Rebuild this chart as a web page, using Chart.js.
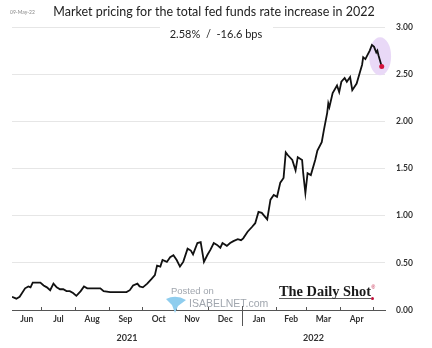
<!DOCTYPE html>
<html>
<head>
<meta charset="utf-8">
<script src="https://cdn.jsdelivr.net/npm/chart.js@4.4.1/dist/chart.umd.min.js"></script>
<style>
html, body { margin: 0; padding: 0; background: #fff; }
#wrap { width: 432px; height: 348px; }
</style>
</head>
<body>
<div id="wrap"><canvas id="fed-chart"></canvas></div>
<script>
// market-implied fed funds hikes priced for 2022 (%)
const dates = [
    '2021-06-04', '2021-06-08', '2021-06-11', '2021-06-16', '2021-06-19', '2021-06-21', '2021-06-23', '2021-06-27', '2021-06-30',
    '2021-07-03', '2021-07-06', '2021-07-09', '2021-07-12', '2021-07-15', '2021-07-18', '2021-07-21', '2021-07-24', '2021-07-27', '2021-07-30',
    '2021-08-02', '2021-08-06', '2021-08-09', '2021-08-12', '2021-08-17', '2021-08-24', '2021-08-27',
    '2021-09-02', '2021-09-08', '2021-09-14', '2021-09-17', '2021-09-20', '2021-09-23', '2021-09-27', '2021-09-29',
    '2021-10-02', '2021-10-06', '2021-10-10', '2021-10-13', '2021-10-15', '2021-10-18', '2021-10-20', '2021-10-24', '2021-10-27', '2021-10-30',
    '2021-11-02', '2021-11-05', '2021-11-08', '2021-11-12', '2021-11-15', '2021-11-17', '2021-11-21', '2021-11-24', '2021-11-27', '2021-11-30',
    '2021-12-03', '2021-12-06', '2021-12-09', '2021-12-12', '2021-12-14', '2021-12-18', '2021-12-21', '2021-12-24', '2021-12-28', '2021-12-31',
    '2022-01-02', '2022-01-06', '2022-01-10', '2022-01-13', '2022-01-16', '2022-01-19', '2022-01-24', '2022-01-27', '2022-01-30',
    '2022-02-02', '2022-02-05', '2022-02-08', '2022-02-10', '2022-02-12', '2022-02-16', '2022-02-19', '2022-02-21', '2022-02-25', '2022-02-26', '2022-02-28',
    '2022-03-02', '2022-03-05', '2022-03-09', '2022-03-11', '2022-03-15', '2022-03-17', '2022-03-20', '2022-03-21', '2022-03-22', '2022-03-25', '2022-03-29', '2022-03-31',
    '2022-04-02', '2022-04-05', '2022-04-07', '2022-04-10', '2022-04-12', '2022-04-16', '2022-04-19', '2022-04-21', '2022-04-22', '2022-04-24', '2022-04-28', '2022-04-30',
    '2022-05-02', '2022-05-04', '2022-05-05', '2022-05-06', '2022-05-09'
];
const rates = [
    0.14, 0.12, 0.14, 0.23, 0.25, 0.24, 0.29, 0.29, 0.29,
    0.26, 0.24, 0.21, 0.28, 0.24, 0.22, 0.22, 0.20, 0.20, 0.18,
    0.15, 0.20, 0.25, 0.23, 0.23, 0.23, 0.20,
    0.19, 0.19, 0.19, 0.19, 0.21, 0.26, 0.28, 0.25,
    0.24, 0.28, 0.33, 0.37, 0.47, 0.46, 0.53, 0.51, 0.56, 0.58,
    0.53, 0.46, 0.51, 0.65, 0.63, 0.59, 0.71, 0.72, 0.51, 0.58,
    0.64, 0.71, 0.69, 0.66, 0.71, 0.68, 0.71, 0.73, 0.75, 0.74,
    0.76, 0.83, 0.88, 0.92, 1.04, 1.03, 0.96, 1.17, 1.22,
    1.20, 1.35, 1.40, 1.67, 1.64, 1.59, 1.48, 1.62, 1.59, 1.45, 1.24,
    1.45, 1.43, 1.59, 1.69, 1.78, 1.91, 2.09, 2.19, 2.15, 2.30, 2.38, 2.31,
    2.42, 2.46, 2.42, 2.47, 2.33, 2.40, 2.52, 2.60, 2.68, 2.66, 2.75, 2.81,
    2.79, 2.73, 2.75, 2.70, 2.58
];
const changeBps = -16.6;

const monthStarts = ['2021-06-01', '2021-07-01', '2021-08-01', '2021-09-01', '2021-10-01', '2021-11-01',
    '2021-12-01', '2022-01-01', '2022-02-01', '2022-03-01', '2022-04-01', '2022-05-01'];
const monthLabels = ['Jun', 'Jul', 'Aug', 'Sep', 'Oct', 'Nov', 'Dec', 'Jan', 'Feb', 'Mar', 'Apr'];
const yearLabels = ['2021', '2022'];
const yearBreak = '2022-01-01';
const yTicks = [0, 0.5, 1, 1.5, 2, 2.5, 3];

// days since 1 Jun 2021
function dayOf(s) {
    const [y, m, d] = s.split('-').map(Number);
    return (Date.UTC(y, m - 1, d) - Date.UTC(2021, 5, 1)) / 86400000;
}

const X_MIN = 3;
const X_MAX = 345;
const FONT = 'Lato, "Open Sans", sans-serif';

// write text squeezed or stretched to a given width
function fitText(ctx, text, x, y, width) {
    const w = ctx.measureText(text).width;
    ctx.save();
    ctx.translate(x, y);
    ctx.scale(width / w, 1);
    ctx.fillText(text, 0, 0);
    ctx.restore();
}

const decor = {
    id: 'decor',
    beforeDatasetsDraw(chart) {
        const { ctx, scales: { x, y } } = chart;
        ctx.save();
        // gap in the top gridline behind the headline number
        ctx.fillStyle = '#fff';
        ctx.fillRect(160, y.getPixelForValue(3) - 2, 113, 4);
        // highlight round the latest readings
        ctx.fillStyle = '#e9d9f7';
        ctx.beginPath();
        ctx.ellipse(x.getPixelForValue(340.5), y.getPixelForValue(2.69), 11, 19, 0, 0, Math.PI * 2);
        ctx.fill();
        ctx.restore();
    },
    afterDraw(chart) {
        const { ctx, chartArea, scales: { x } } = chart;
        const bottom = chartArea.bottom;
        ctx.save();

        // month tick marks and year divider
        ctx.strokeStyle = '#555';
        ctx.lineWidth = 1;
        monthStarts.slice(1).forEach(s => {
            const px = Math.round(x.getPixelForValue(dayOf(s))) + 0.5;
            const longTick = s === yearBreak;
            ctx.beginPath();
            ctx.moveTo(px, bottom - (longTick ? 4 : 3));
            ctx.lineTo(px, bottom + (longTick ? 16 : 0));
            ctx.stroke();
        });

        // year labels centred under their span
        ctx.fillStyle = '#333';
        ctx.font = 'bold 9px ' + FONT;
        ctx.textAlign = 'center';
        ctx.textBaseline = 'middle';
        const brk = dayOf(yearBreak);
        const spans = [[X_MIN, brk], [brk, X_MAX]];
        yearLabels.forEach((t, i) => {
            const mid = (spans[i][0] + spans[i][1]) / 2;
            ctx.fillText(t, x.getPixelForValue(mid), 338);
        });

        // heading
        ctx.fillStyle = '#222';
        ctx.font = '12.5px ' + FONT;
        ctx.fillText('Market pricing for the total fed funds rate increase in 2022', 214, 12);
        ctx.font = '11px ' + FONT;
        ctx.fillText(rates[rates.length - 1].toFixed(2) + '%  /  ' + changeBps.toFixed(1) + ' bps', 216, 34);
        ctx.fillStyle = '#888';
        ctx.font = '5px ' + FONT;
        ctx.textAlign = 'left';
        ctx.fillText('09-May-22', 10, 12);

        // source marks
        ctx.fillStyle = '#a0a6ae';
        ctx.font = '9.5px "Liberation Sans", Arial, sans-serif';
        ctx.fillText('Posted on', 171, 291);
        ctx.font = '10.5px "Liberation Sans", Arial, sans-serif';
        ctx.fillText('ISABELNET.com', 189, 304);
        ctx.fillStyle = '#8fcdee';
        ctx.beginPath();
        ctx.moveTo(166, 299);
        ctx.quadraticCurveTo(176, 294, 186, 300);
        ctx.lineTo(178, 306);
        ctx.lineTo(175, 313);
        ctx.lineTo(172, 305);
        ctx.closePath();
        ctx.fill();

        ctx.fillStyle = '#1a1a1a';
        ctx.font = 'bold 14px "Liberation Serif", "DejaVu Serif", serif';
        ctx.textBaseline = 'alphabetic';
        fitText(ctx, 'The Daily Shot', 279, 296, 92);
        ctx.fillStyle = '#c0143c';
        ctx.font = '5px "Liberation Sans", sans-serif';
        ctx.fillText('®', 371.5, 289);
        ctx.strokeStyle = '#333';
        ctx.lineWidth = 0.8;
        ctx.beginPath();
        ctx.moveTo(279, 298.5);
        ctx.lineTo(371, 298.5);
        ctx.stroke();
        ctx.fillStyle = '#c0143c';
        ctx.beginPath();
        ctx.arc(372.5, 298.5, 1.5, 0, Math.PI * 2);
        ctx.fill();

        ctx.restore();
    }
};

new Chart(document.getElementById('fed-chart'), {
    type: 'line',
    data: {
        datasets: [{
            data: dates.map((d, i) => ({ x: dayOf(d), y: rates[i] })),
            borderColor: '#111',
            borderWidth: 1.8,
            tension: 0,
            pointRadius: ctx => ctx.dataIndex === rates.length - 1 ? 2.5 : 0,
            pointBackgroundColor: '#d4143c',
            pointBorderWidth: 0
        }]
    },
    options: {
        responsive: true,
        maintainAspectRatio: false,
        animation: false,
        layout: { padding: { left: 12, top: 27, right: 0, bottom: 0 } },
        plugins: { legend: { display: false }, tooltip: { enabled: false } },
        scales: {
            x: {
                type: 'linear',
                min: X_MIN,
                max: X_MAX,
                afterBuildTicks: scale => {
                    scale.ticks = monthLabels.map((m, i) => {
                        const start = Math.max(dayOf(monthStarts[i]), X_MIN);
                        const end = dayOf(monthStarts[i + 1]);
                        return { value: (start + end) / 2 };
                    });
                },
                afterFit: scale => { scale.height = 38; },
                grid: { display: false, drawTicks: false },
                border: { display: true, color: '#555', width: 1 },
                ticks: {
                    autoSkip: false,
                    maxRotation: 0,
                    padding: 4,
                    color: '#333',
                    font: { family: FONT, weight: 'bold', size: 8.5 },
                    callback: (v, i) => monthLabels[i]
                }
            },
            y: {
                position: 'right',
                min: 0,
                max: 3,
                afterBuildTicks: scale => { scale.ticks = yTicks.map(v => ({ value: v })); },
                afterFit: scale => { scale.width = 47; },
                grid: { color: '#e6e6e6', drawTicks: false },
                border: { display: false },
                ticks: {
                    padding: 11,
                    color: '#333',
                    font: { family: FONT, weight: 'bold', size: 8.5 },
                    callback: v => v.toFixed(2)
                }
            }
        }
    },
    plugins: [decor]
});
</script>
</body>
</html>
